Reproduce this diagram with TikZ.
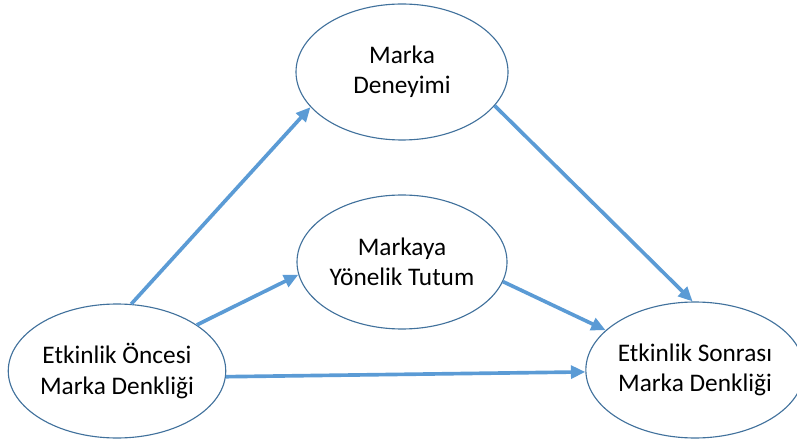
\documentclass[tikz,border=0pt]{standalone}
\usepackage{fontspec}
\setmainfont{Carlito}
\usetikzlibrary{shapes.geometric,arrows.meta}

\begin{document}
\begin{tikzpicture}[
    construct/.style={ellipse, draw=ellipseblue, line width=0.8pt, inner sep=0pt,
        align=center, font=\fontsize{18}{21.5}\selectfont},
    path/.style={draw=arrowblue, line width=2.6pt,
        -{Triangle[length=0.36cm, width=0.32cm]}}
]
    \definecolor{ellipseblue}{HTML}{41719C}
    \definecolor{arrowblue}{HTML}{5B9BD5}

    % Fix the canvas to the size of the figure
    \useasboundingbox (0,0) rectangle (19.925,11.025);

    % The four constructs
    \node[construct, minimum width=5.3cm, minimum height=3.4cm] (deneyim) at (10.05,9.225) {Marka\\Deneyimi};
    \node[construct, minimum width=5.25cm, minimum height=3.35cm] (tutum) at (10.05,4.475) {Markaya\\Yönelik Tutum};
    \node[construct, minimum width=5.25cm, minimum height=3.35cm] (once) at (2.925,1.75) {Etkinlik Öncesi\\Marka Denkliği};
    \node[construct, minimum width=5.1cm, minimum height=3.4cm] (sonra) at (17.375,1.775) {Etkinlik Sonrası\\Marka Denkliği};

    % Paths between them
    \draw[path] (once.78) -- (deneyim.201);
    \draw[path] (once.30) -- (tutum.187);
    \draw[path] (once.357) -- (sonra.181);
    \draw[path] (deneyim.340) -- (sonra.92);
    \draw[path] (tutum.349) -- (sonra.156);

\end{tikzpicture}
\end{document}
